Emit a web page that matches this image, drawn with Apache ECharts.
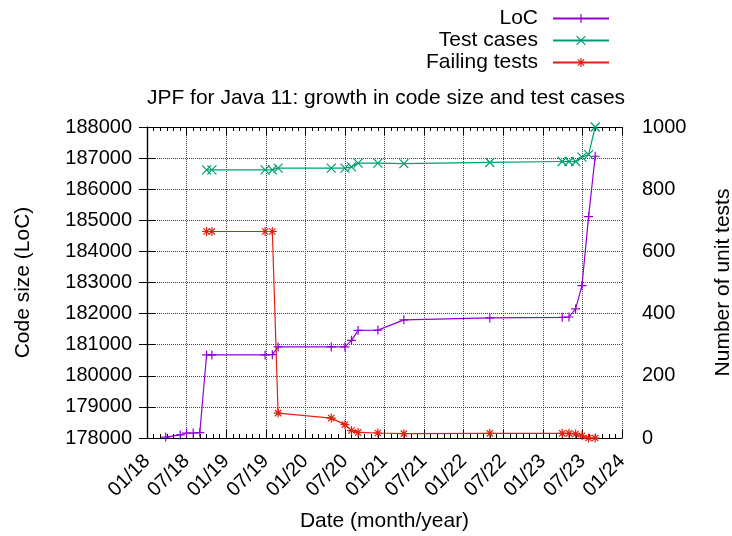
<!DOCTYPE html>
<html><head><meta charset="utf-8">
<script src="https://cdn.jsdelivr.net/npm/echarts@6/dist/echarts.min.js"></script>
<style>html,body{margin:0;padding:0;background:#fff}#c{width:732px;height:536px}</style>
</head><body><div id="c"></div>
<script>
// ---- data ----
const locDates = ['2018-03-27','2018-06-02','2018-07-01','2018-08-01','2018-09-01','2018-10-02','2018-10-27','2019-06-28','2019-08-01','2019-08-28','2020-04-29','2020-07-01','2020-08-01','2020-09-01','2020-12-01','2021-03-30','2022-04-30','2023-03-30','2023-04-30','2023-05-31','2023-06-29','2023-07-30','2023-08-30'];
const locValues = [178030,178100,178160,178160,178170,180670,180670,180670,180680,180930,180930,180930,181140,181460,181470,181800,181860,181880,181890,182150,182900,185120,187060];
const testDates = ['2018-10-02','2018-10-27','2019-06-28','2019-08-01','2019-08-28','2020-04-29','2020-07-01','2020-08-01','2020-09-01','2020-12-01','2021-03-30','2022-04-30','2023-03-30','2023-04-30','2023-05-31','2023-06-29','2023-07-30','2023-08-30'];
const testValues = [862,862,862,862,868,868,868,872,884,884,882,886,889,889,889,903,911,1000];
const failValues = [664,664,664,664,80,64,43,24,18,16,14,15,15,15,13,7,0,0];
const leftTicks = {min:178000, max:188000, step:1000};
const rightTicks = {min:0, max:1000, step:200};
const xRange = {start:'2018-01-01', end:'2024-01-01', stepMonths:6};

// month offset since Jan 2018
function toMonths(s){
  const [y,m,d] = s.split('-').map(Number);
  const dim = new Date(Date.UTC(y, m, 0)).getUTCDate();
  return (y-2018)*12 + (m-1) + (d-1)/dim;
}
function pairs(dates, vals){ return dates.map((d,i)=>[toMonths(d), vals[i]]); }
const xMin = toMonths(xRange.start), xMax = toMonths(xRange.end);

const FONT = "'Liberation Sans', Arial, sans-serif";
const cLoc = '#9400d3', cTest = '#009e73', cFail = '#e51e10';
const symPlus = 'path://M5,0L5,10M0,5L10,5';
const symX = 'path://M0,0L10,10M10,0L0,10';
const symStar = 'path://M5,0L5,10M0,5L10,5M1.5,1.5L8.5,8.5M8.5,1.5L1.5,8.5';

function mk(name, data, color, sym, yi){
  return {
    name, type:'line', data, yAxisIndex: yi, symbol: sym, symbolSize: 9,
    showSymbol:true, animation:false,
    lineStyle:{color, width:1.2},
    itemStyle:{color:'none', borderColor:color, borderWidth:1.2}
  };
}
function legend(name, top){
  return {
    data:[name], right:117, top, align:'right', itemWidth:56, itemHeight:11,
    selectedMode:false,
    itemStyle:{color:'none', borderWidth:1.2},
    textStyle:{fontFamily:FONT, fontSize:21, color:'#000', padding:[0,10,0,0]}
  };
}
const plain = v => String(v);

const chart = echarts.init(document.getElementById('c'), null, {renderer:'canvas'});
chart.setOption({
  backgroundColor:'#fff',
  animation:false,
  title:{text:'JPF for Java 11: growth in code size and test cases', left:381, textAlign:'center', top:83,
    textStyle:{fontFamily:FONT, fontSize:21, fontWeight:'normal', color:'#000'}},
  legend:[legend('LoC',3), legend('Test cases',25), legend('Failing tests',47)],
  grid:{left:147, right:110, top:127, bottom:98, outerBoundsMode:'none', containLabel:false},
  xAxis:[{
    type:'value', min:xMin, max:xMax, interval:xRange.stepMonths,
    name:'Date (month/year)', nameLocation:'middle', nameGap:73,
    nameTextStyle:{fontFamily:FONT, fontSize:21, color:'#000'},
    axisLine:{show:true, lineStyle:{color:'#000', width:1.2}},
    axisTick:{show:true, inside:true, length:8, lineStyle:{color:'#000'}},
    minorTick:{show:true, splitNumber:6, length:4, lineStyle:{color:'#000'}},
    splitLine:{show:true, lineStyle:{color:'#444', type:'dotted', width:1}},
    axisLabel:{rotate:45, margin:20, fontFamily:FONT, fontSize:20, color:'#000',
      formatter:v=>{const m=((v%12)+12)%12; const y=18+Math.floor(v/12); return String(m+1).padStart(2,'0')+'/'+y;}}
  },{
    type:'value', position:'top', min:xMin, max:xMax, interval:xRange.stepMonths,
    axisLine:{show:true, lineStyle:{color:'#000', width:1.2}},
    axisTick:{show:true, inside:true, length:8, lineStyle:{color:'#000'}},
    minorTick:{show:true, splitNumber:6, length:4, lineStyle:{color:'#000'}},
    splitLine:{show:false}, axisLabel:{show:false}
  }],
  yAxis:[{
    type:'value', min:leftTicks.min, max:leftTicks.max, interval:leftTicks.step,
    name:'Code size (LoC)', nameLocation:'middle', nameGap:113, nameRotate:90,
    nameTextStyle:{fontFamily:FONT, fontSize:21, color:'#000'},
    axisLine:{show:true, lineStyle:{color:'#000', width:1.2}},
    axisTick:{show:true, inside:true, length:8, lineStyle:{color:'#000'}},
    splitLine:{show:true, lineStyle:{color:'#444', type:'dotted', width:1}},
    axisLabel:{margin:15, fontFamily:FONT, fontSize:20, color:'#000', formatter:plain}
  },{
    type:'value', position:'right', min:rightTicks.min, max:rightTicks.max, interval:rightTicks.step,
    name:'Number of unit tests', nameLocation:'middle', nameGap:91, nameRotate:90,
    nameTextStyle:{fontFamily:FONT, fontSize:21, color:'#000'},
    axisLine:{show:true, lineStyle:{color:'#000', width:1.2}},
    axisTick:{show:true, inside:true, length:8, lineStyle:{color:'#000'}},
    minorTick:{show:true, splitNumber:2, length:8, lineStyle:{color:'#000'}},
    splitLine:{show:false},
    axisLabel:{margin:20, fontFamily:FONT, fontSize:20, color:'#000', formatter:plain}
  }],
  series:[
    mk('LoC', pairs(locDates, locValues), cLoc, symPlus, 0),
    mk('Test cases', pairs(testDates, testValues), cTest, symX, 1),
    mk('Failing tests', pairs(testDates, failValues), cFail, symStar, 1)
  ]
});
</script></body></html>
